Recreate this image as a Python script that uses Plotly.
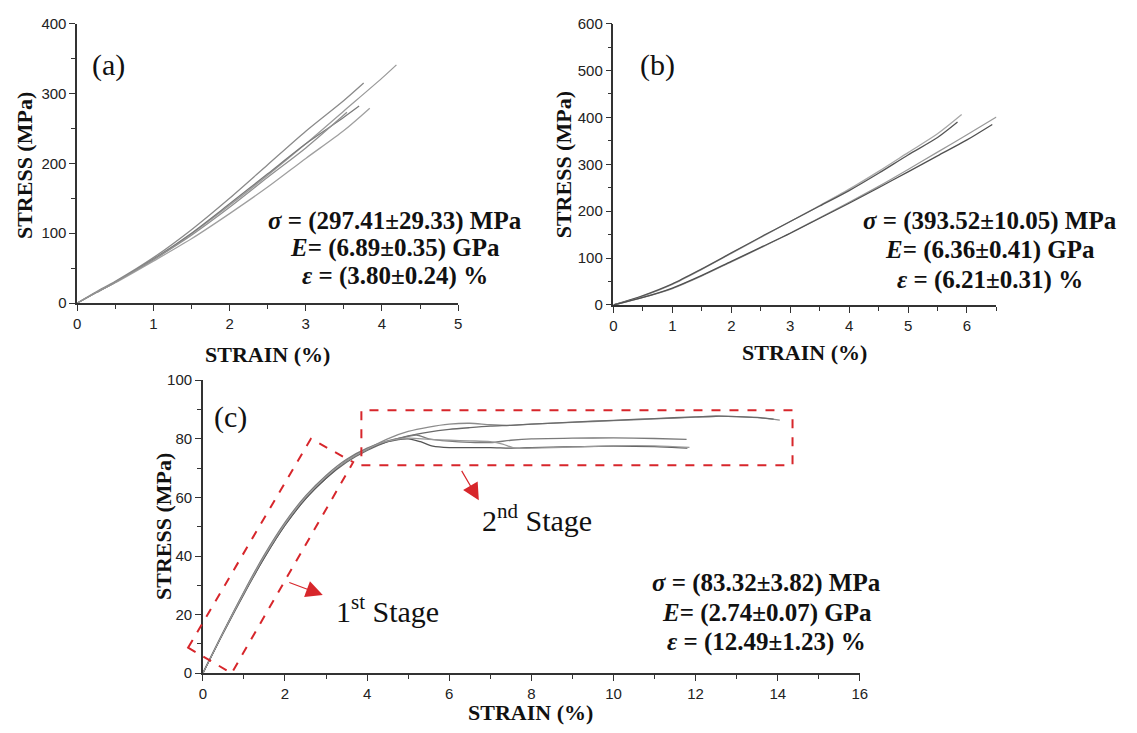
import plotly.graph_objects as go

W, H = 1137, 733

# ---------------- data ----------------
# Panel (a)
a_x = [
    [0, 0.25, 0.5, 1, 1.5, 2, 2.5, 3, 3.5, 3.76],
    [0, 0.25, 0.5, 1, 1.5, 2, 2.5, 3, 3.5, 4, 4.19],
    [0, 0.25, 0.5, 1, 1.5, 2, 2.5, 3, 3.5, 3.70],
    [0, 0.25, 0.5, 1, 1.5, 2, 2.5, 3, 3.5, 3.84],
    [0, 0.25, 0.5, 1, 1.5, 2, 2.5, 3, 3.54],
]
a_y = [
    [0, 16, 31, 65, 105, 150, 198, 246, 290, 315],
    [0, 15, 30, 62, 99, 140, 183, 228, 275, 322, 341],
    [0, 15, 30, 63, 100, 142, 185, 228, 266, 282],
    [0, 15, 29, 60, 92, 128, 166, 207, 247, 279],
    [0, 15, 30, 62, 97, 137, 180, 222, 273],
]
a_col = ["#8a8a8a", "#9a9a9a", "#7a7a7a", "#a0a0a0", "#909090"]

# Panel (b)
b_x = [
    [0, 0.5, 1, 1.5, 2, 2.5, 3, 3.5, 4, 4.5, 5, 5.5, 5.91],
    [0, 0.5, 1, 1.5, 2, 2.5, 3, 3.5, 4, 4.5, 5, 5.5, 5.84],
    [0, 0.5, 1, 1.5, 2, 2.5, 3, 3.5, 4, 4.5, 5, 5.5, 6, 6.5],
    [0, 0.5, 1, 1.5, 2, 2.5, 3, 3.5, 4, 4.5, 5, 5.5, 6, 6.43],
]
b_y = [
    [0, 19, 44, 76, 110, 144, 178, 212, 247, 285, 325, 365, 406],
    [0, 20, 45, 77, 111, 145, 178, 211, 244, 281, 320, 357, 390],
    [0, 16, 35, 62, 92, 122, 153, 186, 219, 253, 289, 326, 363, 401],
    [0, 16, 36, 63, 93, 123, 153, 185, 217, 250, 284, 318, 352, 385],
]
b_col = ["#a8a8a8", "#555555", "#9a9a9a", "#505050"]

# Panel (c)
c_x = [
    [0, 0.5, 1, 1.5, 2, 2.5, 3, 3.5, 4, 4.5, 5, 5.5, 6, 6.5, 7, 7.5, 8, 9, 10, 11, 12, 12.5, 13, 13.5, 14.05],
    [0, 0.5, 1, 1.5, 2, 2.5, 3, 3.5, 4, 4.5, 5, 5.5, 6, 6.5, 7, 7.5, 8, 9, 10, 11, 12, 12.5, 13, 13.5, 13.9],
    [0, 0.5, 1, 1.5, 2, 2.5, 3, 3.5, 4, 4.5, 5, 5.2, 5.5, 6, 6.5, 7, 7.5, 8, 9, 10, 11, 11.78],
    [0, 0.5, 1, 1.5, 2, 2.5, 3, 3.5, 4, 4.5, 5, 5.3, 5.6, 6, 7, 7.5, 8, 9, 10, 11, 11.8],
    [0, 0.5, 1, 1.5, 2, 2.5, 3, 3.5, 4, 4.5, 5, 5.5, 6, 6.5, 7, 7.3, 7.6, 8, 9, 10, 11, 11.85],
]
c_y = [
    [0, 14, 27.5, 40, 51, 60, 67, 72.5, 76.5, 80, 82.5, 84, 85, 85.3, 84.8, 84.6, 85, 85.6, 86.2, 86.8, 87.4, 87.7, 87.6, 87.2, 86.4],
    [0, 14, 27.3, 39.5, 50.5, 59.5, 66.5, 72, 76, 79, 81, 82.3, 83.2, 83.8, 84.3, 84.6, 85, 85.7, 86.3, 86.9, 87.5, 87.7, 87.6, 87.3, 86.7],
    [0, 14.2, 27.8, 40.5, 51.5, 60.5, 67.5, 73, 76.8, 79.3, 80.8, 81.3, 80, 79.2, 78.8, 78.7, 79.5, 80, 80.2, 80.3, 80.1, 79.8],
    [0, 13.8, 27, 39.5, 50.5, 59.5, 66.5, 72.5, 76.5, 79, 80, 79, 77.5, 77, 77, 76.8, 77, 77.3, 77.5, 77.3, 76.8],
    [0, 14, 27.4, 40, 51, 60, 67, 72.5, 76.5, 79.2, 80.2, 79.8, 79.5, 79.3, 79, 78.2, 76.8, 76.8, 77.2, 77.6, 77.6, 77.1],
]
c_col = ["#8c8c8c", "#6a6a6a", "#7a7a7a", "#555555", "#999999"]

stats_a = ["<b><i>σ</i> = (297.41±29.33) MPa</b>", "<b><i>E</i>= (6.89±0.35) GPa</b>", "<b><i>ε</i> = (3.80±0.24) %</b>"]
stats_b = ["<b><i>σ</i> = (393.52±10.05) MPa</b>", "<b><i>E</i>= (6.36±0.41) GPa</b>", "<b><i>ε</i> = (6.21±0.31) %</b>"]
stats_c = ["<b><i>σ</i> = (83.32±3.82) MPa</b>", "<b><i>E</i>= (2.74±0.07) GPa</b>", "<b><i>ε</i> = (12.49±1.23) %</b>"]

# stage boxes (data units of panel c)
stage1_corners = [(-0.36, 8.7), (2.63, 80.0), (3.66, 72.0), (0.70, 0.0)]
stage2_box = (3.86, 71.0, 14.36, 89.7)

# ---------------- layout helpers ----------------
def px(x):
    return x / W

def py(y):
    return 1 - y / H

# axis domains in pixels: (left, right, top, bottom)
dom_a = (74, 459, 15, 301)
dom_b = (616, 1003, 15, 303)
dom_c = (201, 865, 380, 680)
rng_a = ((0, 5), (0, 400))
rng_b = ((0, 6.5), (0, 600))
rng_c = ((0, 16), (0, 100))

def data_to_paper(x, y, dom, rng):
    (x0, x1), (y0, y1) = rng
    l, r, t, b = dom
    pxv = l + (x - x0) / (x1 - x0) * (r - l)
    pyv = b - (y - y0) / (y1 - y0) * (b - t)
    return px(pxv), py(pyv)

fig = go.Figure()

def add_lines(xs, ys, cols, xa, ya, width=1.3):
    for x, y, c in zip(xs, ys, cols):
        fig.add_trace(go.Scatter(x=x, y=y, mode="lines", xaxis=xa, yaxis=ya,
                                 line=dict(color=c, width=width, shape="spline", smoothing=0.8),
                                 showlegend=False, hoverinfo="skip"))

add_lines(a_x, a_y, a_col, "x", "y")
add_lines(b_x, b_y, b_col, "x2", "y2")
add_lines(c_x, c_y, c_col, "x3", "y3", width=1.3)

tickfont = dict(family="Liberation Sans, Arial", size=15, color="#222")
axcolor = "#333333"

def axis(dom, rng, dtick, minor, horizontal, anchor):
    l, r, t, b = dom
    d = [px(l), px(r)] if horizontal else [py(b), py(t)]
    return dict(domain=d, range=list(rng), dtick=dtick, tick0=0, anchor=anchor,
                showline=True, linecolor=axcolor, linewidth=1.5,
                ticks="outside", ticklen=6, tickwidth=1.3, tickcolor=axcolor,
                minor=dict(ticks="outside", ticklen=4, tickwidth=1.2, tickcolor=axcolor, dtick=minor),
                showgrid=False, zeroline=False, tickfont=tickfont, fixedrange=True)

fig.update_layout(
    width=W, height=H, margin=dict(l=0, r=0, t=0, b=0),
    paper_bgcolor="white", plot_bgcolor="white", showlegend=False,
    xaxis=axis(dom_a, rng_a[0], 1, 0.5, True, "y"),
    yaxis=axis(dom_a, rng_a[1], 100, 50, False, "x"),
    xaxis2=axis(dom_b, rng_b[0], 1, 0.5, True, "y2"),
    yaxis2=axis(dom_b, rng_b[1], 100, 50, False, "x2"),
    xaxis3=axis(dom_c, rng_c[0], 2, 1, True, "y3"),
    yaxis3=axis(dom_c, rng_c[1], 20, 10, False, "x3"),
)

ann = []
title_font = dict(family="Liberation Serif, Times New Roman", size=22, color="#111")
stat_font = dict(family="Liberation Serif, Times New Roman", size=25, color="#111")
lab_font = dict(family="Liberation Serif, Times New Roman", size=30, color="#111")
stage_font = dict(family="Liberation Serif, Times New Roman", size=30, color="#111")

def text(x, y, t, font, angle=0):
    ann.append(dict(xref="paper", yref="paper", x=px(x), y=py(y), text=t, showarrow=False,
                    xanchor="center", yanchor="middle", font=font, textangle=angle))

# axis titles
text(266, 354, "<b>STRAIN (%)</b>", title_font)
text(21, 160, "<b>STRESS (MPa)</b>", title_font, -90)
text(809, 352, "<b>STRAIN (%)</b>", title_font)
text(565, 160, "<b>STRESS (MPa)</b>", title_font, -90)
text(532, 720, "<b>STRAIN (%)</b>", title_font)
text(161, 530, "<b>STRESS (MPa)</b>", title_font, -90)

# panel labels
text(106, 57, "(a)", lab_font)
text(660, 57, "(b)", lab_font)
text(229, 418, "(c)", lab_font)

# stats
for i, (ya, yb, yc) in enumerate(zip([217, 245, 273], [217, 247, 277], [588, 618, 648])):
    text(395, ya, stats_a[i], stat_font)
    text(997, yb, stats_b[i], stat_font)
    text(771, yc, stats_c[i], stat_font)

# stage labels
text(388, 614, "1<sup>st</sup> Stage", stage_font)
text(539, 521, "2<sup>nd</sup> Stage", stage_font)

# arrows (panel c)
red = "#d7262b"
ann.append(dict(xref="x3", yref="y3", x=2.92, y=26.7, ax=-35, ay=-13, axref="pixel", ayref="pixel",
                showarrow=True, arrowhead=2, arrowsize=2.8, arrowwidth=1.2, arrowcolor=red, text=""))
ann.append(dict(xref="x3", yref="y3", x=6.72, y=59.0, ax=-18, ay=-31, axref="pixel", ayref="pixel",
                showarrow=True, arrowhead=2, arrowsize=2.8, arrowwidth=1.2, arrowcolor=red, text=""))
fig.update_layout(annotations=ann)

# dashed boxes
pts = [data_to_paper(x, y, dom_c, rng_c) for x, y in stage1_corners]
path = "M " + " L ".join(f"{a:.5f},{b:.5f}" for a, b in pts) + " Z"
fig.add_shape(type="path", path=path, xref="paper", yref="paper",
              line=dict(color=red, width=2, dash="dash"))
x0, y0 = data_to_paper(stage2_box[0], stage2_box[1], dom_c, rng_c)
x1, y1 = data_to_paper(stage2_box[2], stage2_box[3], dom_c, rng_c)
fig.add_shape(type="rect", xref="paper", yref="paper", x0=x0, y0=y0, x1=x1, y1=y1,
              line=dict(color=red, width=2, dash="dash"))

fig.write_html("out.html")
